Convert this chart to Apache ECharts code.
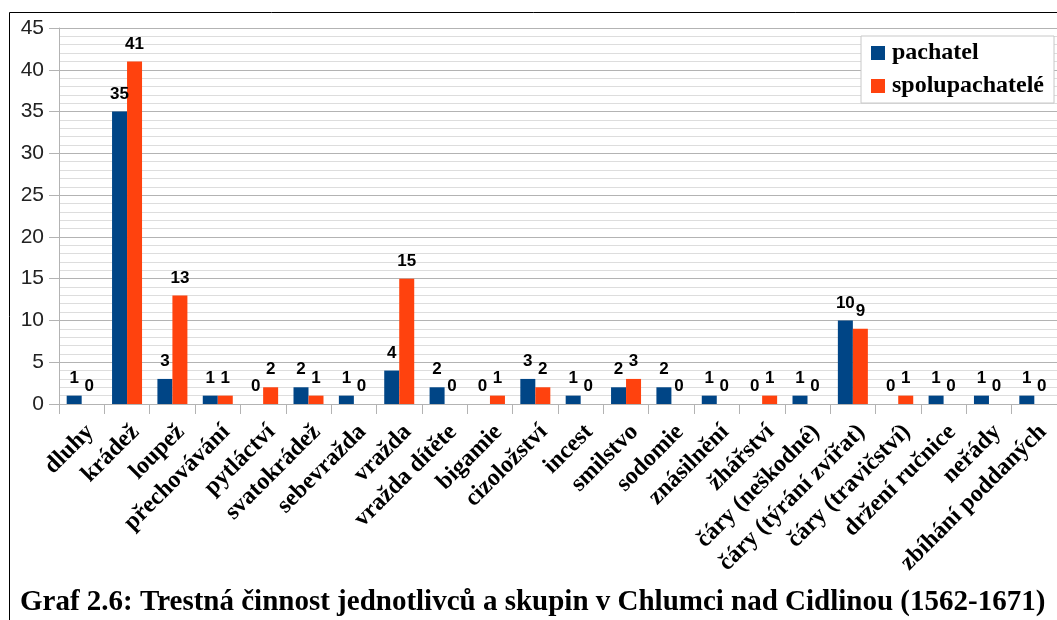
<!DOCTYPE html>
<html>
<head>
<meta charset="utf-8">
<title>Graf 2.6</title>
<script src="https://cdn.jsdelivr.net/npm/echarts@6/dist/echarts.min.js"></script>
<style>
  html, body { margin: 0; padding: 0; background: #fff; }
  #chart { width: 1057px; height: 620px; }
</style>
</head>
<body>
<div id="chart"></div>
<script>
// kategorie trestne cinnosti
var categories = ['dluhy', 'krádež', 'loupež', 'přechovávání', 'pytláctví', 'svatokrádež',
    'sebevražda', 'vražda', 'vražda dítěte', 'bigamie', 'cizoložství', 'incest', 'smilstvo',
    'sodomie', 'znásilnění', 'žhářství', 'čáry (neškodné)', 'čáry (týrání zvířat)',
    'čáry (travičství)', 'držení ručnice', 'neřády', 'zbíhání poddaných'];
var pachatel = [1, 35, 3, 1, 0, 2, 1, 4, 2, 0, 3, 1, 2, 2, 1, 0, 1, 10, 0, 1, 1, 1];
var spolupachatele = [0, 41, 13, 1, 2, 1, 0, 15, 0, 1, 2, 0, 3, 0, 0, 1, 0, 9, 1, 0, 0, 0];
var yTicks = [0, 5, 10, 15, 20, 25, 30, 35, 40, 45];
var titleText = 'Graf 2.6: Trestná činnost jednotlivců a skupin v Chlumci nad Cidlinou (1562-1671)';

var serif = '"Liberation Serif", "DejaVu Serif", serif';
var sans = '"Liberation Sans", Arial, sans-serif';

var labelStyle = {
    show: true,
    position: 'top',
    distance: 9,
    color: '#000',
    fontFamily: sans,
    fontWeight: 'bold',
    fontSize: 17
};

var myChart = echarts.init(document.getElementById('chart'), null, { renderer: 'canvas' });
var option = {
    animation: false,
    backgroundColor: '#fff',
    graphic: [
        {
            // ramecek kolem grafu
            type: 'rect',
            shape: { x: 9.5, y: 12.5, width: 1070, height: 700 },
            style: { fill: 'none', stroke: '#000', lineWidth: 1 },
            silent: true
        },
        {
            type: 'text',
            left: 20,
            top: 588,
            style: {
                text: titleText,
                fontFamily: serif,
                fontWeight: 'bold',
                fontSize: 29,
                fill: '#000'
            }
        }
    ],
    legend: {
        data: ['pachatel', 'spolupachatelé'],
        orient: 'vertical',
        left: 861,
        top: 36,
        icon: 'rect',
        itemWidth: 14,
        itemHeight: 14,
        itemGap: 9,
        padding: [5, 10, 5, 10],
        backgroundColor: '#fff',
        borderColor: '#c8c8c8',
        borderWidth: 1,
        textStyle: {
            fontFamily: serif,
            fontWeight: 'bold',
            fontSize: 24,
            color: '#000',
            padding: [0, 0, 0, 2]
        }
    },
    grid: {
        left: 59,
        top: 28,
        width: 1003,
        height: 376,
        containLabel: false
    },
    xAxis: {
        type: 'category',
        data: categories,
        axisLine: { show: true, lineStyle: { color: '#b3b3b3' } },
        axisTick: { show: true, length: 10, alignWithLabel: false, lineStyle: { color: '#b3b3b3' } },
        axisLabel: {
            interval: 0,
            rotate: 45,
            margin: 16,
            verticalAlign: 'top',
            color: '#000',
            fontFamily: serif,
            fontWeight: 'bold',
            fontSize: 24
        },
        splitLine: { show: false }
    },
    yAxis: {
        type: 'value',
        min: yTicks[0],
        max: yTicks[yTicks.length - 1],
        interval: 5,
        axisLine: { show: true, lineStyle: { color: '#b3b3b3' } },
        axisTick: { show: true, length: 10, lineStyle: { color: '#b3b3b3' } },
        axisLabel: {
            margin: 15,
            color: '#222',
            fontFamily: sans,
            fontSize: 21
        },
        splitLine: { show: true, lineStyle: { color: '#b3b3b3' } },
        minorTick: { show: false, splitNumber: 5 },
        minorSplitLine: { show: true, lineStyle: { color: '#dddddd' } }
    },
    series: [
        {
            name: 'pachatel',
            type: 'bar',
            data: pachatel,
            barWidth: 15,
            barGap: '0%',
            itemStyle: { color: '#004586' },
            label: labelStyle
        },
        {
            name: 'spolupachatelé',
            type: 'bar',
            data: spolupachatele,
            barWidth: 15,
            barGap: '0%',
            itemStyle: { color: '#ff420e' },
            label: labelStyle
        }
    ]
};
myChart.setOption(option);
</script>
</body>
</html>
